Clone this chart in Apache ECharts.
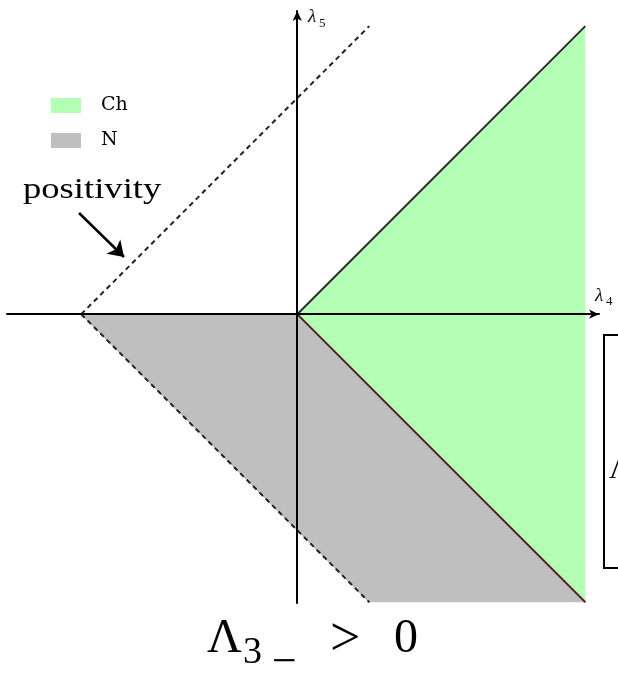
<!DOCTYPE html>
<html>
<head>
<meta charset="utf-8">
<script src="https://cdn.jsdelivr.net/npm/echarts@6/dist/echarts.min.js"></script>
<style>
  html, body { margin: 0; padding: 0; background: #fff; }
  #chart { width: 618px; height: 673px; }
</style>
</head>
<body>
<div id="chart"></div>
<script>
// Regions of the (λ4, λ5) plane, as polygon vertices in axis units
const chRegion = [[0, 0], [4, 4], [4, -4]];
const nRegion = [[-3, 0], [0, 0], [4, -4], [1, -4]];

// Boundary lines
const positivityLine = [[-3, 0], [1, 4]];
const nLowerEdge = [[-3, 0], [1, -4]];
const chUpperEdge = [[0, 0], [4, 4]];
const chLowerEdge = [[0, 0], [4, -4]];

// Annotation arrow pointing at the positivity bound
const positivityArrow = [[-3.03, 1.405], [-2.405, 0.794]];

const legendNames = ['Ch', 'N'];
const axisNames = { x: 'λ', xSub: '4', y: 'λ', ySub: '5' };

const SERIF = '"Liberation Serif", "DejaVu Serif", serif';
const WIDE_SERIF = '"DejaVu Serif", serif';
const GREEN = '#b3ffb3';
const GRAY = '#bfbfbf';

function polygonSeries(name, pts, color) {
  return {
    name: name,
    type: 'custom',
    z: 1,
    itemStyle: { color: color },
    data: pts,
    renderItem: function (params, api) {
      if (params.dataIndex !== 0) return null;
      const points = pts.map(function (p) { return api.coord(p); });
      return {
        type: 'polygon',
        shape: { points: points },
        style: { fill: color, stroke: null }
      };
    }
  };
}

function lineSeries(pts, color, width, dashed, z) {
  return {
    type: 'line',
    data: pts,
    showSymbol: false,
    symbol: 'none',
    silent: true,
    z: z,
    lineStyle: { color: color, width: width, type: dashed ? [5, 4] : 'solid' }
  };
}

const chart = echarts.init(document.getElementById('chart'), null, { renderer: 'canvas' });

const axisLine = {
  onZero: true,
  symbol: ['none', 'arrow'],
  symbolSize: [7, 10],
  lineStyle: { color: '#000', width: 2 }
};

chart.setOption({
  animation: false,
  backgroundColor: '#fff',
  grid: { left: 7, right: 19, top: 11, bottom: 70, containLabel: false },
  xAxis: {
    type: 'value', min: -4.03, max: 4.19, z: 5,
    axisLine: axisLine, axisTick: { show: false }, axisLabel: { show: false },
    splitLine: { show: false }
  },
  yAxis: {
    type: 'value', min: -4.01, max: 4.21, z: 5,
    axisLine: axisLine, axisTick: { show: false }, axisLabel: { show: false },
    splitLine: { show: false }
  },
  legend: {
    data: legendNames,
    orient: 'vertical',
    left: 46, top: 91,
    icon: 'rect',
    itemWidth: 30, itemHeight: 15,
    itemGap: 16,
    selectedMode: false,
    textStyle: { fontFamily: WIDE_SERIF, fontSize: 19, color: '#000', lineHeight: 15, padding: [0, 0, 0, 15] }
  },
  series: [
    polygonSeries('Ch', chRegion, GREEN),
    polygonSeries('N', nRegion, GRAY),
    lineSeries(chUpperEdge, '#2a2a2a', 2, false, 3),
    lineSeries(chLowerEdge, '#d98a8a', 2.6, false, 3),
    lineSeries(chLowerEdge, '#1a1a1a', 1.4, false, 4),
    lineSeries(nLowerEdge, '#e0a0a0', 1, false, 3),
    lineSeries(positivityLine, '#222', 2, true, 4),
    lineSeries(nLowerEdge, '#222', 2, true, 4),
    {
      type: 'lines',
      coordinateSystem: 'cartesian2d',
      z: 6,
      symbol: ['none', 'arrow'],
      symbolSize: [14, 15],
      lineStyle: { color: '#000', width: 2.5, opacity: 1 },
      data: [{ coords: positivityArrow }]
    }
  ],
  graphic: [
    { type: 'text', x: 23, y: 190, scaleX: 1.22, originX: 0, z: 10,
      style: { text: 'positivity', font: '30px ' + SERIF, fill: '#000', verticalAlign: 'middle' } },
    { type: 'text', x: 595, y: 296, z: 10,
      style: { text: axisNames.x, font: 'italic 19px ' + SERIF, fill: '#111', verticalAlign: 'middle' } },
    { type: 'text', x: 606, y: 302, z: 10,
      style: { text: axisNames.xSub, font: '13px ' + SERIF, fill: '#111', verticalAlign: 'middle' } },
    { type: 'text', x: 308, y: 17, z: 10,
      style: { text: axisNames.y, font: 'italic 19px ' + SERIF, fill: '#111', verticalAlign: 'middle' } },
    { type: 'text', x: 319, y: 24, z: 10,
      style: { text: axisNames.ySub, font: '13px ' + SERIF, fill: '#111', verticalAlign: 'middle' } },
    { type: 'rect', z: 10, shape: { x: 604, y: 335, width: 40, height: 233 },
      style: { fill: null, stroke: '#000', lineWidth: 2 } },
    { type: 'text', x: 609, y: 470, z: 10,
      style: { text: 'Λ', font: '30px ' + SERIF, fill: '#000', verticalAlign: 'middle' } },
    { type: 'text', x: 207, y: 639, z: 10,
      style: { text: 'Λ', font: '48px ' + SERIF, fill: '#000', verticalAlign: 'middle' } },
    { type: 'text', x: 243, y: 653, z: 10,
      style: { text: '3', font: '38px ' + SERIF, fill: '#000', verticalAlign: 'middle' } },
    { type: 'text', x: 272, y: 663, z: 10,
      style: { text: '−', font: '44px ' + SERIF, fill: '#000', verticalAlign: 'middle' } },
    { type: 'text', x: 330, y: 641, z: 10,
      style: { text: '>', font: '54px ' + SERIF, fill: '#000', verticalAlign: 'middle' } },
    { type: 'text', x: 394, y: 639, z: 10,
      style: { text: '0', font: '48px ' + SERIF, fill: '#000', verticalAlign: 'middle' } }
  ]
});
</script>
</body>
</html>
